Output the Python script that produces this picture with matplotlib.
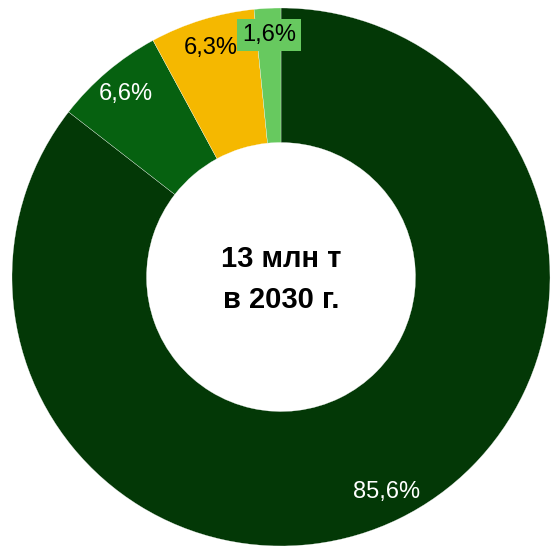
import numpy as np
import matplotlib.pyplot as plt

plt.rcParams['font.family'] = ['Liberation Sans', 'DejaVu Sans']

# shares, clockwise from 12 o'clock
labels = ['85,6%', '6,6%', '6,3%', '1,6%']
values = [85.6, 6.6, 6.3, 1.6]
colors = ['#033806', '#066110', '#f5b800', '#67c95f']
text_colors = ['white', 'white', 'black', 'black']
center_text = '13 млн т\nв 2030 г.'

fig = plt.figure(figsize=(5.51, 5.46), dpi=100)
ax = fig.add_axes([12 / 551, 0, 538 / 551, 538 / 546])

wedges, _ = ax.pie(values, colors=colors, startangle=90, counterclock=False,
                   radius=1, wedgeprops=dict(width=0.5, edgecolor='white', linewidth=0.2))

for w, lab, tc, col in zip(wedges, labels, text_colors, colors):
    ang = np.deg2rad((w.theta1 + w.theta2) / 2)
    r = 0.9 if lab == '1,6%' else 0.89
    x, y = r * np.cos(ang), r * np.sin(ang)
    kw = {}
    if lab == '1,6%':
        kw['bbox'] = dict(boxstyle='square,pad=0.2', facecolor=col, edgecolor='none')
    ax.text(x, y, lab, ha='center', va='center', fontsize=17, color=tc, **kw)

ax.text(0, -0.01, center_text, ha='center', va='center', fontsize=21,
        fontweight='bold', linespacing=1.6)

ax.set_xlim(-1, 1)
ax.set_ylim(-1, 1)
ax.set_aspect('equal')
ax.axis('off')

fig.savefig('out.png', dpi=100)
